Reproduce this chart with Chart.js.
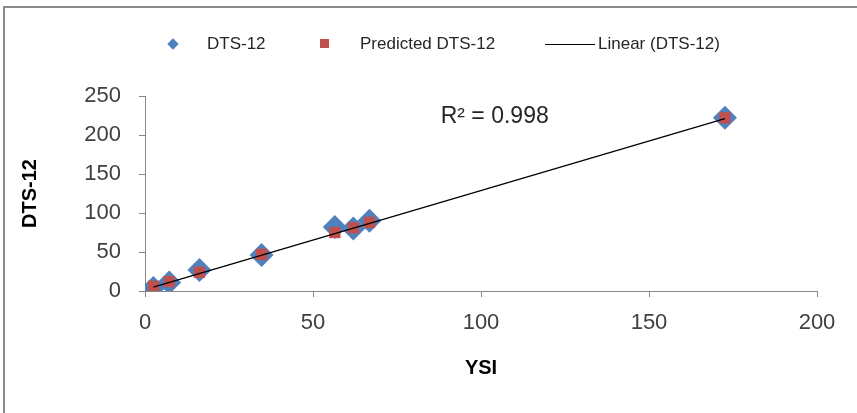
<!DOCTYPE html>
<html lang="en">
<head>
    <meta charset="utf-8" />
    <title>DTS-12 vs YSI</title>
    <script src="https://cdn.jsdelivr.net/npm/chart.js"></script>
    <style>
        body { margin: 0; background: #fff; overflow: hidden; }
        .wrap { position: relative; width: 857px; height: 413px; }
        .frame {
            position: absolute; left: 3px; top: 6px;
            width: 900px; height: 460px;
            border: 2px solid #8a8a8a;
        }
        canvas { position: absolute; left: 0; top: 0; }
        .legend {
            position: absolute; top: 33px; left: 0;
            font-family: "Liberation Sans", Arial, sans-serif;
            font-size: 17px; color: #262626;
        }
        .legend span { position: absolute; white-space: nowrap; line-height: 22px; }
        .mk-diamond { width: 8px; height: 8px; background: #4f81bd; transform: rotate(45deg); }
        .mk-square { width: 9px; height: 9px; background: #c0504d; }
        .mk-line { width: 50px; height: 0; border-top: 1px solid #000; }
    </style>
</head>
<body>
<div class="wrap">
    <div class="frame"></div>
    <canvas id="chart" width="857" height="413"></canvas>
    <div class="legend">
        <span class="mk-diamond" style="left:169px; top:7px;"></span>
        <span style="left:207px; top:0;">DTS-12</span>
        <span class="mk-square" style="left:320px; top:6px;"></span>
        <span style="left:360px; top:0;">Predicted DTS-12</span>
        <span class="mk-line" style="left:545px; top:11px;"></span>
        <span style="left:598px; top:0;">Linear (DTS-12)</span>
    </div>
</div>

<script>
    // values
    const ysi = [2.5, 7.2, 16.2, 34.7, 56.5, 62.0, 66.8, 172.6];
    const dts12 = [4, 11, 27, 46, 82, 80, 90, 222];
    const predicted = [6, 12, 24, 47, 75, 81, 88, 222];
    const trendX = [2.5, 172.6];
    const trendY = [5, 221];
    const xTicks = [0, 50, 100, 150, 200];
    const yTicks = [0, 50, 100, 150, 200, 250];
    const r2Label = 'R² = 0.998';

    const pts = (xs, ys) => xs.map((x, i) => ({ x: x, y: ys[i] }));

    const r2Plugin = {
        id: 'r2text',
        afterDatasetsDraw(chart) {
            const ctx = chart.ctx;
            const xs = chart.scales.x, ys = chart.scales.y;
            ctx.save();
            ctx.font = '23px "Liberation Sans", Arial, sans-serif';
            ctx.fillStyle = '#262626';
            ctx.textAlign = 'left';
            ctx.textBaseline = 'middle';
            ctx.fillText(r2Label, xs.getPixelForValue(88), ys.getPixelForValue(223));
            ctx.restore();
        }
    };

    const tickFont = { family: '"Liberation Sans", Arial, sans-serif', size: 22 };
    const titleFont = { family: '"Liberation Sans", Arial, sans-serif', size: 20, weight: 'bold' };

    new Chart(document.getElementById('chart'), {
        type: 'scatter',
        data: {
            datasets: [{
                label: 'Linear (DTS-12)',
                type: 'line',
                data: pts(trendX, trendY),
                borderColor: '#000',
                borderWidth: 1.3,
                pointRadius: 0,
                fill: false,
                order: 0
            }, {
                label: 'Predicted DTS-12',
                data: pts(ysi, predicted),
                pointStyle: 'rect',
                pointRadius: 8,
                backgroundColor: '#c0504d',
                borderWidth: 0,
                order: 1
            }, {
                label: 'DTS-12',
                data: pts(ysi, dts12),
                pointStyle: 'rectRot',
                pointRadius: 12,
                backgroundColor: '#4f81bd',
                borderWidth: 0,
                order: 2
            }]
        },
        options: {
            responsive: false,
            animation: false,
            layout: { padding: { top: 96, right: 40, bottom: 0, left: 0 } },
            plugins: { legend: { display: false }, tooltip: { enabled: false } },
            scales: {
                x: {
                    type: 'linear', min: 0, max: 200,
                    afterBuildTicks: s => { s.ticks = xTicks.map(v => ({ value: v })); },
                    afterFit: s => { s.height = 122; },
                    border: { color: '#868686', width: 1 },
                    grid: { drawOnChartArea: false, drawTicks: true, tickLength: 6, color: '#868686' },
                    ticks: { font: tickFont, color: '#404040', padding: 13, maxRotation: 0 },
                    title: { display: true, text: 'YSI', font: titleFont, color: '#000', padding: { bottom: 33 } }
                },
                y: {
                    type: 'linear', min: 0, max: 250,
                    afterBuildTicks: s => { s.ticks = yTicks.map(v => ({ value: v })); },
                    afterFit: s => { s.width = 145; },
                    border: { color: '#868686', width: 1 },
                    grid: { drawOnChartArea: false, drawTicks: true, tickLength: 6, color: '#868686' },
                    ticks: { font: tickFont, color: '#404040', padding: 18 },
                    title: { display: true, text: 'DTS-12', font: titleFont, color: '#000', padding: { top: 18 } }
                }
            }
        },
        plugins: [r2Plugin]
    });
</script>
</body>
</html>
